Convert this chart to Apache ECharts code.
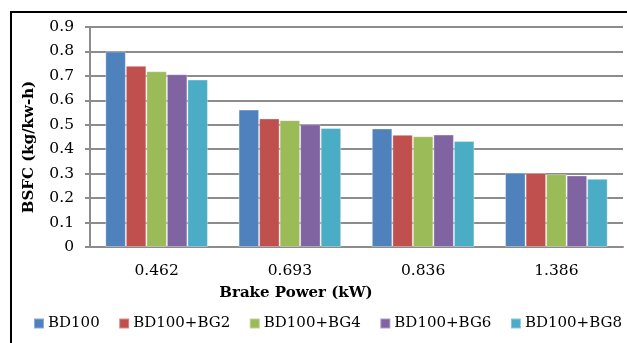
<!DOCTYPE html>
<html>
<head>
<meta charset="utf-8">
<script src="https://cdn.jsdelivr.net/npm/echarts@6/dist/echarts.min.js"></script>
<style>
html, body { margin: 0; padding: 0; background: #fff; }
#chart { width: 627px; height: 343px; }
</style>
</head>
<body>
<div id="chart"></div>
<script>
// Brake power settings (kW)
const categories = ['0.462', '0.693', '0.836', '1.386'];

// BSFC (kg/kW-h) per fuel blend
const seriesNames = ['BD100', 'BD100+BG2', 'BD100+BG4', 'BD100+BG6', 'BD100+BG8'];
const bd100 = [0.800, 0.562, 0.485, 0.304];
const bd100bg2 = [0.741, 0.526, 0.459, 0.303];
const bd100bg4 = [0.719, 0.519, 0.453, 0.298];
const bd100bg6 = [0.707, 0.502, 0.460, 0.293];
const bd100bg8 = [0.685, 0.487, 0.434, 0.279];

const yTicks = { min: 0, max: 0.9, interval: 0.1 };

const colors = ['#4F81BD', '#C0504D', '#9BBB59', '#8064A2', '#4BACC6'];
const seriesData = [bd100, bd100bg2, bd100bg4, bd100bg6, bd100bg8];

const serif = 'DejaVu Serif';
const chart = echarts.init(document.getElementById('chart'), null, { renderer: 'canvas' });

chart.setOption({
  animation: false,
  backgroundColor: '#ffffff',
  color: colors,
  grid: { left: 90, right: 4, top: 27, bottom: 96, containLabel: false },
  graphic: [{
    type: 'rect',
    shape: { x: 11, y: 12, width: 700, height: 400 },
    style: { fill: 'none', stroke: '#000', lineWidth: 2 },
    silent: true
  }],
  legend: {
    bottom: 12,
    left: 33,
    width: 620,
    padding: 0,
    itemWidth: 10,
    itemHeight: 10,
    itemGap: 18.5,
    icon: 'rect',
    textStyle: { fontFamily: serif, fontSize: 15, color: '#000', padding: [0, 0, 0, -1] },
    data: seriesNames
  },
  xAxis: {
    type: 'category',
    data: categories,
    name: 'Brake Power (kW)',
    nameLocation: 'middle',
    nameGap: 39,
    nameTextStyle: { fontFamily: serif, fontSize: 15, fontWeight: 'bold', color: '#000', padding: [0, 121, 0, 0] },
    axisLine: { show: true, lineStyle: { color: '#8c8c8c', width: 2 } },
    axisTick: { show: false },
    axisLabel: { fontFamily: serif, fontSize: 15.5, color: '#000', margin: 16 }
  },
  yAxis: {
    type: 'value',
    min: yTicks.min,
    max: yTicks.max,
    interval: yTicks.interval,
    name: 'BSFC (kg/kw-h)',
    nameLocation: 'middle',
    nameGap: 53,
    nameTextStyle: { fontFamily: serif, fontSize: 15, fontWeight: 'bold', color: '#000', padding: [0, 20, 0, 0] },
    axisLine: { show: true, lineStyle: { color: '#8c8c8c', width: 2 } },
    axisTick: { show: true, length: 5, lineStyle: { color: '#8c8c8c', width: 2 } },
    splitLine: { show: true, lineStyle: { color: '#8c8c8c', width: 2 } },
    axisLabel: { fontFamily: serif, fontSize: 15.5, color: '#000', margin: 16,
      formatter: v => (Math.round(v * 10) / 10).toString() }
  },
  series: seriesNames.map((name, i) => ({
    name: name,
    type: 'bar',
    data: seriesData[i],
    barGap: '0%',
    barCategoryGap: '23%',
    itemStyle: { color: colors[i], borderColor: 'rgba(255,255,255,0.35)', borderWidth: 1 }
  }))
});
</script>
</body>
</html>
